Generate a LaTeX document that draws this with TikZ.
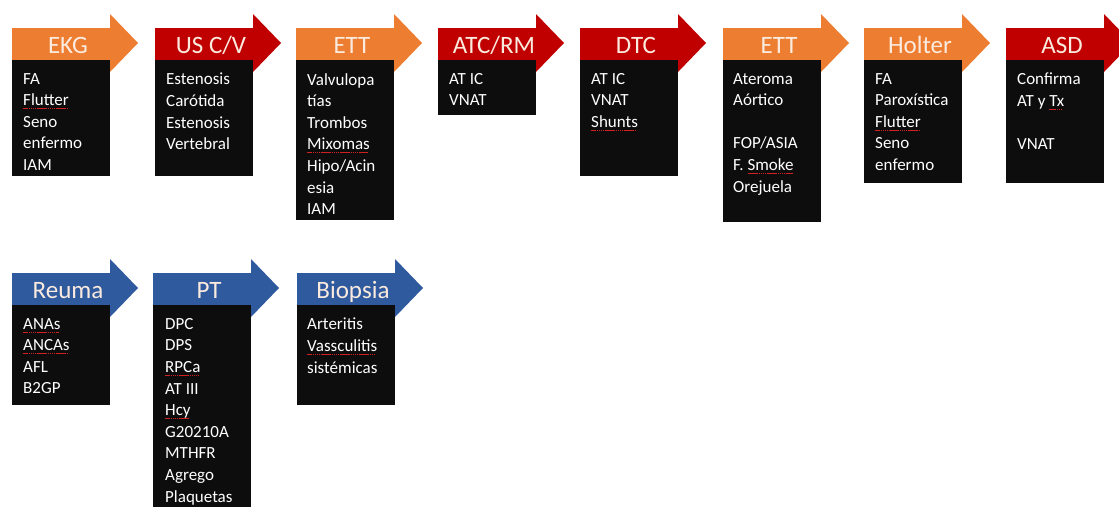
\documentclass[tikz,border=0pt]{standalone}
\usepackage{fontspec}
\setmainfont{Carlito}
\definecolor{hdorange}{HTML}{ED7D31}
\definecolor{hdred}{HTML}{C00000}
\definecolor{hdblue}{HTML}{2F5A9E}
\definecolor{boxblack}{HTML}{0D0D0D}
\definecolor{hdtext}{HTML}{FBEBDF}
\definecolor{spellred}{HTML}{D02020}
\newsavebox\spellbox
\newcommand\spellerr[1]{\sbox\spellbox{#1}\rlap{\textcolor{spellred}{\leaders\hbox{\rule[-3.5pt]{1.4pt}{0.9pt}\kern0.5pt}\hskip\wd\spellbox}}\usebox\spellbox}
\begin{document}
\begin{tikzpicture}[x=1pt,y=-1pt,
    heading/.style={anchor=base,inner sep=0pt,text=hdtext,font=\fontsize{25}{30}\selectfont},
    darkbox/.style={anchor=north west,fill=boxblack,inner sep=0pt,minimum width=98pt},
    items/.style={anchor=north west,inner sep=0pt,align=left,text=white,font=\fontsize{17}{21.6}\selectfont}]
  \useasboundingbox (0,0) rectangle (1119,506);
  \foreach \n/\x/\y/\c/\t in {ekg/12/0/hdorange/EKG, uscv/155/0/hdred/{US C/V},
      ett/296/0/hdorange/ETT, atc/438/0/hdred/{ATC/RM}, dtc/580/0/hdred/DTC,
      etta/723/0/hdorange/ETT, holter/864/0/hdorange/Holter, asd/1006/0/hdred/ASD,
      reuma/12/245/hdblue/Reuma, pt/153/245/hdblue/PT, biopsia/297/245/hdblue/Biopsia}{
    \fill[\c] (\x,\y+28) -- ++(98,0) -- ++(0,-14) -- ++(28,29) -- ++(-28,29)
      -- ++(0,-12) -- ++(-98,0) -- cycle;
    \node[heading] (hd-\n) at (\x+56,\y+53) {\t};
  }
  \node[darkbox,minimum height=116pt] (box-ekg) at (12,60) {};
  \node[darkbox,minimum height=116pt] (box-uscv) at (155,60) {};
  \node[darkbox,minimum height=160pt] (box-ett) at (296,60) {};
  \node[darkbox,minimum height=55pt] (box-atc) at (438,60) {};
  \node[darkbox,minimum height=116pt] (box-dtc) at (580,60) {};
  \node[darkbox,minimum height=162pt] (box-etta) at (723,60) {};
  \node[darkbox,minimum height=123pt] (box-holter) at (864,60) {};
  \node[darkbox,minimum height=123pt] (box-asd) at (1006,60) {};
  \node[darkbox,minimum height=100pt] (box-reuma) at (12,305) {};
  \node[darkbox,minimum height=205pt] (box-pt) at (153,305) {};
  \node[darkbox,minimum height=100pt] (box-biopsia) at (297,305) {};
  \node[items] (txt-ekg) at ([xshift=11pt,yshift=-13pt]box-ekg.north west)
    {FA\\\spellerr{Flutter}\\Seno\\enfermo\\IAM};
  \node[items] (txt-uscv) at ([xshift=11pt,yshift=-13pt]box-uscv.north west)
    {Estenosis\\Carótida\\Estenosis\\Vertebral};
  \node[items] (txt-ett) at ([xshift=11pt,yshift=-13pt]box-ett.north west)
    {Valvulopa\\tías\\Trombos\\\spellerr{Mixomas}\\Hipo/Acin\\esia\\IAM};
  \node[items] (txt-atc) at ([xshift=11pt,yshift=-13pt]box-atc.north west)
    {AT IC\\VNAT};
  \node[items] (txt-dtc) at ([xshift=11pt,yshift=-13pt]box-dtc.north west)
    {AT IC\\VNAT\\\spellerr{Shunts}};
  \node[items] (txt-etta) at ([xshift=10pt,yshift=-13pt]box-etta.north west)
    {Ateroma\\Aórtico\\[21.6pt]FOP/ASIA\\F. \spellerr{Smoke}\\Orejuela};
  \node[items] (txt-holter) at ([xshift=11pt,yshift=-13pt]box-holter.north west)
    {FA\\Paroxística\\\spellerr{Flutter}\\Seno\\enfermo};
  \node[items] (txt-asd) at ([xshift=11pt,yshift=-13pt]box-asd.north west)
    {Confirma\\AT y \spellerr{Tx}\\[21.6pt]VNAT};
  \node[items] (txt-reuma) at ([xshift=11pt,yshift=-13pt]box-reuma.north west)
    {\spellerr{ANAs}\\\spellerr{ANCAs}\\AFL\\B2GP};
  \node[items] (txt-pt) at ([xshift=12pt,yshift=-13pt]box-pt.north west)
    {DPC\\DPS\\\spellerr{RPCa}\\AT III\\\spellerr{Hcy}\\G20210A\\MTHFR\\Agrego\\Plaquetas};
  \node[items] (txt-biopsia) at ([xshift=10pt,yshift=-13pt]box-biopsia.north west)
    {Arteritis\\\spellerr{Vassculitis}\\sistémicas};
\end{tikzpicture}
\end{document}
